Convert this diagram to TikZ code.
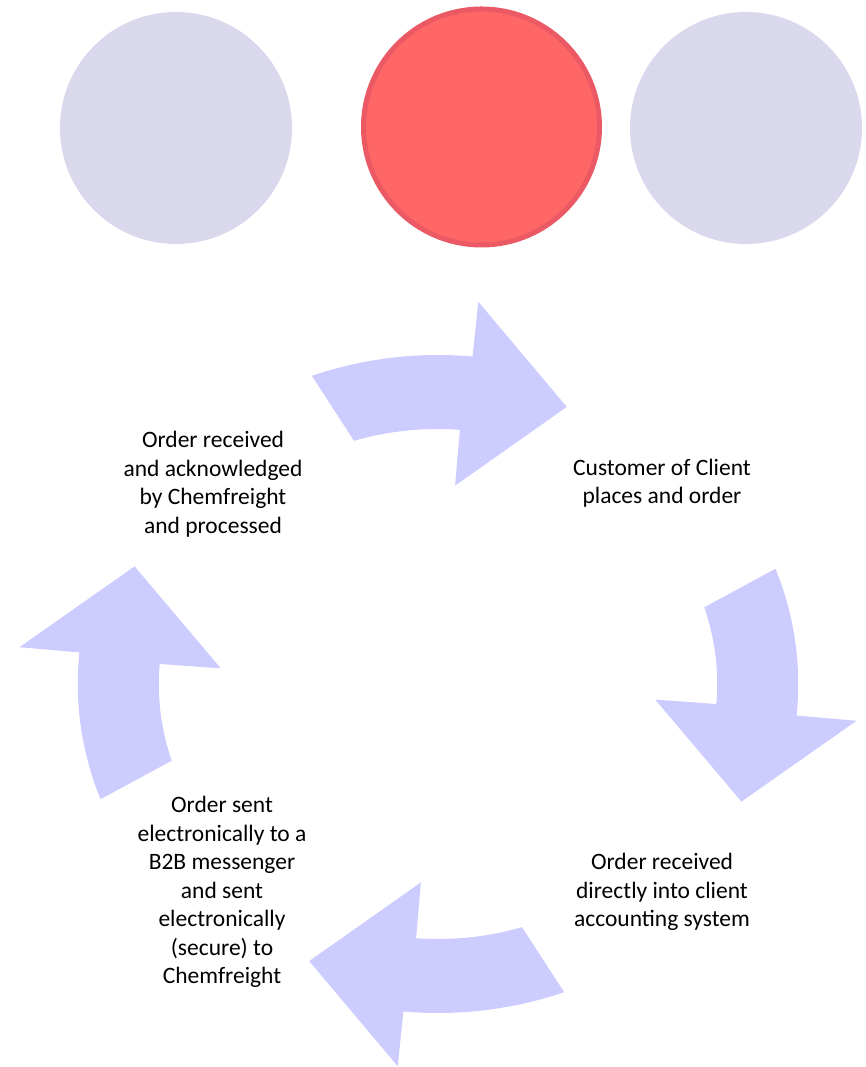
\documentclass[tikz,border=0pt]{standalone}
\usepackage{fontspec}
\setmainfont{Carlito}
\definecolor{dotgrey}{HTML}{DAD8EC}
\definecolor{dotred}{HTML}{FF6666}
\definecolor{dotredline}{HTML}{EB5A64}
\definecolor{cyclefill}{HTML}{CCCCFF}
\tikzset{
  dot/.style={circle, fill=dotgrey, minimum size=232pt, inner sep=0pt},
  activedot/.style={circle, fill=dotred, draw=dotredline, line width=5pt,
    minimum size=236pt, inner sep=0pt},
  cyclearrow/.style={fill=cyclefill},
  steptext/.style={align=center, font=\fontsize{23.5}{28.5}\selectfont}
}

\begin{document}
\begin{tikzpicture}[x=1pt,y=1pt]
  \useasboundingbox (0,0) rectangle (866,1067);

  % progress dots
  \node[dot] (dotleft) at (176,939) {};
  \node[activedot] (dotmid) at (481.5,940) {};
  \node[dot] (dotright) at (746,939) {};

  % cycle arrows
  \begin{scope}[shift={(438,383)},xscale=1.095]
    \fill[cyclearrow]
      (110.5:329) arc[start angle=110.5, end angle=84.5, radius=329]
      -- (84.5:384) -- (67:301) -- (85.5:199) -- (85.5:255)
      arc[start angle=85.5, end angle=107.5, radius=255] -- cycle;
    \fill[cyclearrow]
      (20.5:329) arc[start angle=20.5, end angle=-5.5, radius=329]
      -- (-5.5:384) -- (-23:301) -- (-4.5:199) -- (-4.5:255)
      arc[start angle=-4.5, end angle=17.5, radius=255] -- cycle;
    \fill[cyclearrow]
      (-69.5:329) arc[start angle=-69.5, end angle=-95.5, radius=329]
      -- (-95.5:384) -- (-113:301) -- (-94.5:199) -- (-94.5:255)
      arc[start angle=-94.5, end angle=-72.5, radius=255] -- cycle;
    \fill[cyclearrow]
      (200.5:329) arc[start angle=200.5, end angle=174.5, radius=329]
      -- (174.5:384) -- (157:301) -- (175.5:199) -- (175.5:255)
      arc[start angle=175.5, end angle=197.5, radius=255] -- cycle;
  \end{scope}

  % step texts
  \node[steptext] (received) at (213,583)
    {Order received\\and acknowledged\\by Chemfreight\\and processed};
  \node[steptext] (customer) at (662,584)
    {Customer of Client\\places and order};
  \node[steptext] (accounting) at (662,175)
    {Order received\\directly into client\\accounting system};
  \node[steptext] (messenger) at (222,175)
    {Order sent\\electronically to a\\B2B messenger\\and sent\\electronically\\(secure) to\\Chemfreight};
\end{tikzpicture}
\end{document}
